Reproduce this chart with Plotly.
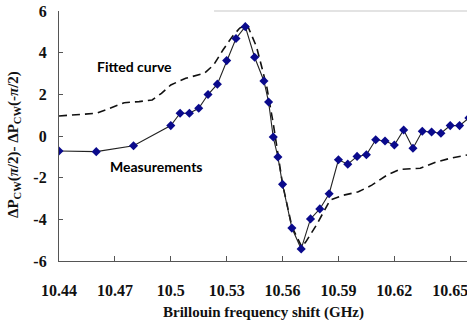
import plotly.graph_objects as go

# Measurements
meas_x = [10.44, 10.46, 10.48, 10.50, 10.505, 10.51, 10.515, 10.52, 10.525, 10.53,
          10.535, 10.54, 10.545, 10.55, 10.5525, 10.555, 10.5575, 10.56, 10.565, 10.57,
          10.575, 10.58, 10.585, 10.59, 10.595, 10.60, 10.605, 10.61, 10.615, 10.62,
          10.625, 10.63, 10.635, 10.64, 10.645, 10.65, 10.655, 10.66]
meas_y = [-0.72, -0.75, -0.47, 0.50, 1.09, 1.09, 1.33, 1.99, 2.49, 3.62,
          4.68, 5.25, 3.78, 2.64, 1.63, -0.05, -1.01, -2.32, -4.42, -5.42,
          -3.98, -3.50, -2.77, -1.14, -1.35, -0.98, -0.90, -0.18, -0.24, -0.43,
          0.29, -0.59, 0.23, 0.19, 0.13, 0.50, 0.50, 0.87]

# Fitted curve
fit_x = [10.44, 10.46, 10.465, 10.475, 10.483, 10.49, 10.495, 10.5, 10.508, 10.518,
         10.523, 10.528, 10.533, 10.537, 10.541, 10.546, 10.549, 10.5515, 10.555, 10.5575,
         10.56, 10.565, 10.5703, 10.5725, 10.578, 10.5855, 10.5927, 10.6007, 10.6079, 10.616,
         10.6231, 10.6339, 10.6428, 10.65, 10.659]
fit_y = [0.96, 1.09, 1.25, 1.60, 1.65, 1.73, 2.05, 2.45, 2.77, 3.01,
         3.41, 4.13, 4.77, 5.18, 5.34, 4.29, 3.25, 2.37, 0.6, -0.9,
         -2.3, -4.35, -5.32, -5.08, -4.3, -3.08, -2.84, -2.68, -2.36, -1.88,
         -1.60, -1.55, -1.24, -1.07, -0.91]

x_ticks = [10.44, 10.47, 10.50, 10.53, 10.56, 10.59, 10.62, 10.65]
x_tick_text = ["10.44", "10.47", "10.5", "10.53", "10.56", "10.59", "10.62", "10.65"]
y_ticks = [-6, -4, -2, 0, 2, 4, 6]
y_tick_text = ["-6", "-4", "-2", "0", "2", "4", "6"]

serif = dict(family="Liberation Serif, Times New Roman, serif", size=16, color="#111111", weight="bold")
title_font = dict(family="Liberation Serif, Times New Roman, serif", size=15, color="#111111", weight="bold")
sans = dict(family="Lato, Open Sans, sans-serif", size=14, color="#000000", weight="bold")

fig = go.Figure()
fig.add_trace(go.Scatter(
    x=fit_x, y=fit_y, mode="lines",
    line=dict(color="#111111", width=1.6, dash="8px,5px"),
    showlegend=False, hoverinfo="skip"))
fig.add_trace(go.Scatter(
    x=meas_x, y=meas_y, mode="lines+markers",
    line=dict(color="#222222", width=1.1),
    marker=dict(symbol="diamond", size=7, color="#0a0a8c"),
    showlegend=False))

fig.update_layout(
    width=467, height=320,
    margin=dict(l=59, r=0, t=11, b=59),
    paper_bgcolor="white", plot_bgcolor="white",
    xaxis=dict(range=[10.44, 10.659], tickvals=x_ticks, ticktext=x_tick_text,
               showline=True, linecolor="#555555", linewidth=1.2,
               ticks="inside", ticklen=5, tickcolor="#555555",
               showgrid=False, zeroline=False, tickfont=serif,
               ticklabelstandoff=15, automargin=False,
               ticklabeloverflow="allow"),
    yaxis=dict(range=[-6, 6], tickvals=y_ticks, ticktext=y_tick_text,
               showline=True, linecolor="#555555", linewidth=1.2,
               ticks="inside", ticklen=4, tickcolor="#555555",
               showgrid=False, zeroline=False, tickfont=serif,
               ticklabelstandoff=8, automargin=False,
               ticklabeloverflow="allow"),
    shapes=[dict(type="line", xref="paper", yref="paper", x0=0.38, x1=1, y0=1, y1=1,
                 line=dict(color="#c8c8c8", width=1.2))],
    annotations=[
        dict(text="Fitted curve", x=10.4803, y=3.33, xref="x", yref="y",
             showarrow=False, font=sans),
        dict(text="Measurements", x=10.4925, y=-1.45, xref="x", yref="y",
             showarrow=False, font=sans),
        dict(text="Brillouin frequency shift (GHz)", x=0.5, y=0, xref="paper", yref="paper",
             xanchor="center", yanchor="middle",
             yshift=-51, showarrow=False, font=title_font),
        dict(text="ΔP<sub>CW</sub>(<i>π</i>/2)- ΔP<sub>CW</sub>(-<i>π</i>/2)",
             x=0, y=0.5, xref="paper", yref="paper", xshift=-45, yshift=-9,
             xanchor="center", yanchor="middle",
             textangle=-90, showarrow=False, font=title_font),
    ],
)

fig.write_html("out.html",
               config={"displayModeBar": False},
               post_script="document.body.style.margin='0';document.body.style.overflow='hidden';")
